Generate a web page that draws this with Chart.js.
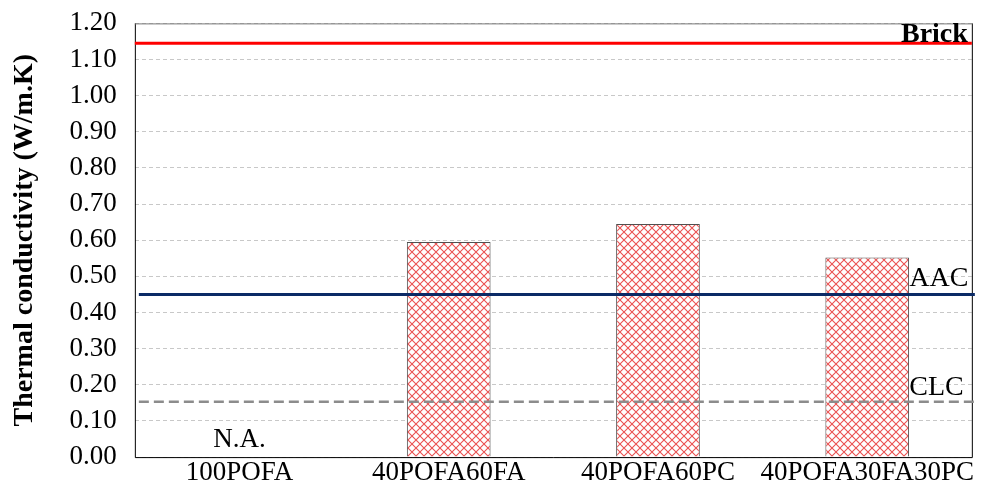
<!DOCTYPE html>
<html lang="en">
<head>
  <meta charset="UTF-8">
  <title>Thermal conductivity</title>
  <script src="https://cdn.jsdelivr.net/npm/chart.js"></script>
  <style>
    html, body { margin: 0; padding: 0; background: #fff; }
    .js { width: 981px; height: 488px; }
  </style>
</head>
<body>
  <div class="js">
    <canvas id="grafico" width="981" height="488"></canvas>
  </div>

<script>
  // dados
  const categorias = ['100POFA', '40POFA60FA', '40POFA60PC', '40POFA30FA30PC'];
  const condutividade = [null, 0.595, 0.645, 0.552];
  const referencias = ['Brick', 'AAC', 'CLC'];
  const valoresReferencia = [1.145, 0.45, 0.153];
  const ticksY = [0, 0.1, 0.2, 0.3, 0.4, 0.5, 0.6, 0.7, 0.8, 0.9, 1.0, 1.1, 1.2];

  const fonte = '"Liberation Serif", "Times New Roman", serif';

  // hachura cruzada vermelha
  function criarHachura() {
    const c = document.createElement('canvas');
    c.width = 8; c.height = 8;
    const g = c.getContext('2d');
    g.fillStyle = '#fff';
    g.fillRect(0, 0, 8, 8);
    g.strokeStyle = 'rgba(230, 50, 50, 0.85)';
    g.lineWidth = 1.1;
    g.beginPath();
    g.moveTo(0, 0); g.lineTo(8, 8);
    g.moveTo(8, 0); g.lineTo(0, 8);
    g.stroke();
    return g.createPattern(c, 'repeat');
  }

  // linhas de referencia, moldura e textos
  const linhasPlugin = {
    id: 'linhas',
    afterDatasetsDraw(chart) {
      const ctx = chart.ctx;
      const a = chart.chartArea;
      const y = chart.scales.y;
      const x = chart.scales.x;

      ctx.save();
      // moldura
      ctx.strokeStyle = '#000';
      ctx.lineWidth = 1;
      ctx.beginPath();
      ctx.moveTo(a.left + 0.5, a.top);
      ctx.lineTo(a.left + 0.5, a.bottom + 0.5);
      ctx.lineTo(a.right + 0.5, a.bottom + 0.5);
      ctx.lineTo(a.right + 0.5, a.top);
      ctx.stroke();
      ctx.strokeStyle = '#777';
      ctx.beginPath();
      ctx.moveTo(a.left, a.top + 0.5);
      ctx.lineTo(a.right + 0.5, a.top + 0.5);
      ctx.stroke();

      const estilos = [
        { cor: '#ff0000', larg: 3, dash: [] },
        { cor: '#0b2a66', larg: 3, dash: [] },
        { cor: '#8c8c8c', larg: 2.5, dash: [10, 5] }
      ];
      for (let i = 0; i < referencias.length; i++) {
        const py = y.getPixelForValue(valoresReferencia[i]);
        ctx.strokeStyle = estilos[i].cor;
        ctx.lineWidth = estilos[i].larg;
        ctx.setLineDash(estilos[i].dash);
        ctx.beginPath();
        ctx.moveTo(a.left + (i == 0 ? 0 : 4), py);
        ctx.lineTo(a.right + (i == 0 ? 0 : 3), py);
        ctx.stroke();
      }
      ctx.setLineDash([]);

      ctx.fillStyle = '#000';
      ctx.textBaseline = 'alphabetic';
      ctx.textAlign = 'right';
      ctx.font = 'bold 28px ' + fonte;
      ctx.fillText(referencias[0], a.right - 4, y.getPixelForValue(valoresReferencia[0]) - 1);
      ctx.textAlign = 'left';
      ctx.font = '28px ' + fonte;
      ctx.fillText(referencias[1], x.getPixelForValue(3) + 42, y.getPixelForValue(valoresReferencia[1]) - 8);
      ctx.fillText(referencias[2], x.getPixelForValue(3) + 42, y.getPixelForValue(valoresReferencia[2]) - 7);

      ctx.textAlign = 'center';
      ctx.font = '27px ' + fonte;
      ctx.fillText('N.A.', x.getPixelForValue(0), y.getPixelForValue(0) - 10);
      ctx.restore();
    }
  };

  function plotarGrafico() {
    Chart.defaults.color = '#000';
    const dados = {
      labels: categorias,
      datasets: [{
        label: 'Thermal conductivity',
        data: condutividade,
        backgroundColor: criarHachura(),
        borderColor: '#505050',
        borderWidth: 1,
        barPercentage: 0.4,
        categoryPercentage: 1.0
      }]
    };

    const config = {
      type: 'bar',
      data: dados,
      options: {
        responsive: false,
        animation: false,
        layout: { padding: { top: 8, right: 8, left: 8, bottom: 0 } },
        plugins: {
          legend: { display: false },
          tooltip: { enabled: false }
        },
        scales: {
          x: {
            grid: { display: false, drawTicks: false },
            border: { display: false },
            ticks: {
              font: { family: fonte, size: 27, lineHeight: 0.7 },
              color: '#000',
              padding: 6,
              maxRotation: 0,
              autoSkip: false
            }
          },
          y: {
            min: 0,
            max: 1.2,
            afterBuildTicks(scale) { scale.ticks = ticksY.map(v => ({ value: v })); },
            grid: { color: '#c8c8c8', lineWidth: 1, drawTicks: false },
            border: { display: false, dash: [4, 3] },
            ticks: {
              font: { family: fonte, size: 27, lineHeight: 0.4 },
              color: '#000',
              padding: 18,
              autoSkip: false,
              callback: v => Number(v).toFixed(2)
            },
            title: {
              display: true,
              text: 'Thermal conductivity (W/m.K)',
              font: { family: fonte, size: 28, weight: 'bold' },
              color: '#000',
              padding: { top: 0, bottom: 10 }
            }
          }
        }
      },
      plugins: [linhasPlugin]
    };

    new Chart(document.getElementById('grafico'), config);
  }

  plotarGrafico();
</script>
</body>
</html>
